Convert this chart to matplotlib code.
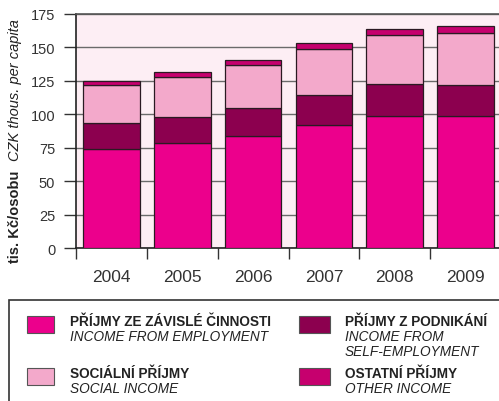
import matplotlib
matplotlib.use('Agg')
import matplotlib.pyplot as plt
from matplotlib.patches import Rectangle
import numpy as np

plt.rcParams['font.family'] = ['Liberation Sans', 'DejaVu Sans']

# data (CZK thous. per capita)
years = ['2004', '2005', '2006', '2007', '2008', '2009']
employment = [74.5, 78.6, 84.1, 91.8, 98.5, 99.0]
self_employment = [19.0, 19.7, 20.9, 22.6, 24.4, 23.1]
social = [28.6, 29.7, 31.7, 34.5, 36.4, 38.7]
other = [3.2, 3.8, 3.7, 4.5, 4.5, 5.0]

series = [employment, self_employment, social, other]
colors = ['#EC008C', '#8C004F', '#F3A9CB', '#C6006E']

W, H = 499, 402
fig = plt.figure(figsize=(W / 100, H / 100), dpi=100)

def px(x0, y0, x1, y1):
    # pixel box -> figure coords
    return [x0 / W, 1 - y1 / H, (x1 - x0) / W, (y1 - y0) / H]

ax = fig.add_axes(px(76, 15, 501, 249.3))
ax.set_facecolor('#FDEEF4')

x = np.arange(len(years))
bottom = np.zeros(len(years))
for vals, c in zip(series, colors):
    ax.bar(x, vals, width=0.8, bottom=bottom, color=c, edgecolor='#2a1a22',
           linewidth=0.9, zorder=3)
    bottom += np.array(vals)

ax.set_xlim(-0.5, len(years) - 0.5)
ax.set_ylim(0, 175)
ax.set_yticks(np.arange(0, 176, 25))
ax.yaxis.grid(True, color='#6a6a6a', linewidth=1.0, zorder=0)
ax.set_axisbelow(True)

ax.set_xticks(x)
ax.set_xticklabels(years, fontsize=12.5, color='#333333')
ax.set_xticks(np.arange(-0.5, len(years), 1), minor=True)
ax.tick_params(axis='x', which='major', length=0, pad=15)
ax.tick_params(axis='x', which='minor', length=8, width=1, color='#333333',
               direction='out')
ax.tick_params(axis='y', length=9, width=1, color='#333333', pad=6,
               labelsize=10.5, labelcolor='#333333')

for s in ['left', 'bottom']:
    ax.spines[s].set_color('#222222')
    ax.spines[s].set_linewidth(1.2)
ax.spines['top'].set_color('#555555')
ax.spines['top'].set_linewidth(1.2)
ax.spines['right'].set_visible(False)

# y axis label (Czech bold + English italic)
fig.text(15 / W, 1 - 263 / H, 'tis. Kč/osobu', rotation=90, ha='center',
         va='bottom', fontsize=10.5, fontweight='bold', color='#222222')
fig.text(15 / W, 1 - 161 / H, 'CZK thous. per capita', rotation=90,
         ha='center', va='bottom', fontsize=10.5, style='italic',
         color='#222222')

# legend frame
fig.add_artist(Rectangle((9 / W, -0.01), (W + 10) / W, 1 - 301 / H + 0.01,
                         transform=fig.transFigure, facecolor='white',
                         edgecolor='#333333', linewidth=1.2))

legend_items = [
    (27, 317, 54, 334, colors[0], 70, ['PŘÍJMY ZE ZÁVISLÉ ČINNOSTI', 'INCOME FROM EMPLOYMENT']),
    (299, 317, 330, 334, colors[1], 345, ['PŘÍJMY Z PODNIKÁNÍ', 'INCOME FROM', 'SELF-EMPLOYMENT']),
    (27, 369, 54, 386, colors[2], 70, ['SOCIÁLNÍ PŘÍJMY', 'SOCIAL INCOME']),
    (299, 369, 330, 386, colors[3], 345, ['OSTATNÍ PŘÍJMY', 'OTHER INCOME']),
]
for x0, y0, x1, y1, c, tx, lines in legend_items:
    fig.add_artist(Rectangle((x0 / W, 1 - y1 / H), (x1 - x0) / W, (y1 - y0) / H,
                             transform=fig.transFigure, facecolor=c,
                             edgecolor='#555555', linewidth=0.8))
    ty = y0 + 5
    for i, line in enumerate(lines):
        fig.text(tx / W, 1 - (ty + i * 15) / H, line, ha='left', va='center',
                 fontsize=9.8, color='#222222',
                 fontweight='bold' if i == 0 else 'normal',
                 style='normal' if i == 0 else 'italic')

fig.savefig('out.png', dpi=100)
